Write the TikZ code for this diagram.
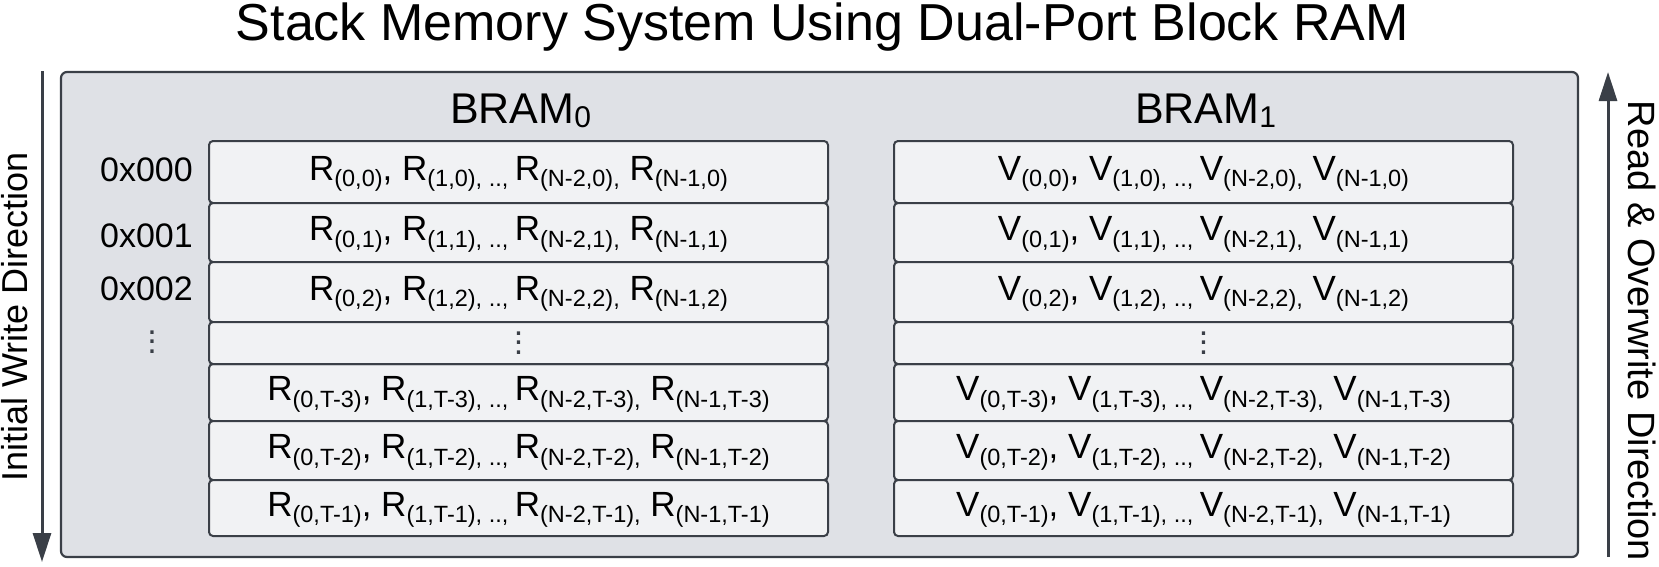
\documentclass[tikz,border=0pt]{standalone}
\usepackage{fontspec}
\setmainfont{Liberation Sans}
\usetikzlibrary{arrows.meta}
\definecolor{outerfill}{RGB}{223,225,230}
\definecolor{cellfill}{RGB}{241,242,244}
\definecolor{ink}{RGB}{58,63,71}
\newcommand\lsub[1]{\raisebox{-6.5pt}{\fontsize{23.5}{25}\selectfont #1}}
\newcommand\rowtxt[2]{#1\lsub{(0,#2)}, #1\lsub{(1,#2), .., }#1\lsub{(N-2,#2),} #1\lsub{(N-1,#2)}}
\newcommand\mydots{\vbox{\baselineskip=9.5pt\lineskiplimit=-100pt\hbox{.}\hbox{.}\hbox{.}}}
\begin{document}
\begin{tikzpicture}[x=1pt,y=-1pt,
  outerbox/.style={draw=ink, line width=2.2pt, fill=outerfill, rounded corners=6pt, inner sep=0pt},
  cellbox/.style={draw=ink, line width=2pt, fill=cellfill, rounded corners=4pt, minimum width=619pt,
    inner sep=0pt, text height=24pt, text depth=8pt, font=\fontsize{35}{38}\selectfont},
  dotsnode/.style={inner sep=0pt, text=ink, font=\fontsize{34}{36}\selectfont},
  addr/.style={anchor=base, inner sep=0pt, font=\fontsize{34}{36}\selectfont},
  bram/.style={anchor=base, inner sep=0pt, font=\fontsize{43}{46}\selectfont},
  side/.style={inner sep=0pt, font=\fontsize{36}{40}\selectfont},
  dirarrow/.style={draw=ink, line width=3pt, -{Triangle[length=29pt,width=18pt]}}
]
\useasboundingbox (0,0) rectangle (1659,566);

% title
\node[anchor=base, inner sep=0pt, font=\fontsize{52}{58}\selectfont] (title) at (822.5,40) {Stack Memory System Using Dual-Port Block RAM};

% outer container
\node[outerbox, minimum width=1517pt, minimum height=485pt] (outer) at (819.5,314.5) {};

% direction arrows
\coordinate (lt) at (42,71);
\coordinate (lb) at (42,562);
\draw[dirarrow] (lt) -- (lb);
\coordinate (rb) at (1608,557);
\coordinate (rt) at (1608,72);
\draw[dirarrow] (rb) -- (rt);
\node[side, rotate=90] (wlabel) at (15,317) {Initial Write Direction};
\node[side, rotate=-90, font=\fontsize{38}{42}\selectfont] (rlabel) at (1642,331) {Read \& Overwrite Direction};

% BRAM labels
\node[bram] (b0) at (520.5,123) {BRAM\raisebox{-4pt}{\fontsize{30}{32}\selectfont 0}};
\node[bram] (b1) at (1205.5,123) {BRAM\raisebox{-4pt}{\fontsize{30}{32}\selectfont 1}};

% addresses
\node[addr] (a0) at (146.5,181) {0x000};
\node[addr] (a1) at (146.5,247) {0x001};
\node[addr] (a2) at (146.5,300) {0x002};
\node[dotsnode] (ad) at (152,342) {\mydots};

% rows
\foreach \n/\y/\h/\t in {1/172/62/0, 2/232.5/59/1, 3/292/60/2, 5/392.5/57/T-3, 6/450.5/59/T-2, 7/508/56/T-1}{
  \node[cellbox, minimum height=\h pt] (l\n) at (518.5,\y) {\rowtxt{R}{\t}};
  \node[cellbox, minimum height=\h pt] (r\n) at (1203.5,\y) {\rowtxt{V}{\t}};
}
\node[cellbox, minimum height=42pt] (l4) at (518.5,343) {};
\node[cellbox, minimum height=42pt] (r4) at (1203.5,343) {};
\node[dotsnode] (l4d) at (l4.center) {\mydots};
\node[dotsnode] (r4d) at (r4.center) {\mydots};
\end{tikzpicture}
\end{document}
